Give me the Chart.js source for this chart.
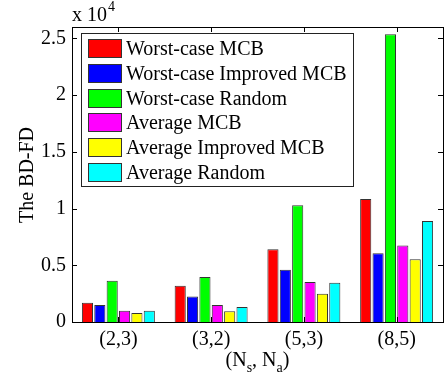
<!DOCTYPE html>
<html>
<head>
<meta charset="utf-8">
<script src="https://cdn.jsdelivr.net/npm/chart.js@4.4.0/dist/chart.umd.min.js"></script>
<style>
html, body { margin: 0; padding: 0; background: #fff; }
</style>
</head>
<body>
<canvas id="myChart" width="447" height="376"></canvas>
<script>
// data
var categories = ['(2,3)', '(3,2)', '(5,3)', '(8,5)'];
var worstMCB = [1700, 3200, 6420, 10830];
var worstImproved = [1500, 2240, 4600, 6070];
var worstRandom = [3640, 3960, 10300, 25370];
var avgMCB = [1000, 1500, 3530, 6740];
var avgImproved = [800, 950, 2500, 5540];
var avgRandom = [1000, 1330, 3460, 8900];
var yTicks = [0, 5000, 10000, 15000, 20000, 25000];
var yMax = 26000;

var seriesNames = ['Worst-case MCB', 'Worst-case Improved MCB', 'Worst-case Random',
    'Average MCB', 'Average Improved MCB', 'Average Random'];
var seriesColors = ['#ff0000', '#0000ff', '#00ff00', '#ff00ff', '#ffff00', '#00ffff'];
var seriesData = [worstMCB, worstImproved, worstRandom, avgMCB, avgImproved, avgRandom];

var FONT = 'Liberation Serif';

var datasets = seriesNames.map(function(name, i) {
    return {
        label: name,
        data: seriesData[i],
        backgroundColor: seriesColors[i],
        borderColor: '#333333',
        borderWidth: 1,
        categoryPercentage: 0.8,
        barPercentage: 0.9
    };
});

// matlab style box, inward ticks, titles and legend
var matlabPlugin = {
    id: 'matlab',
    afterDraw: function(chart) {
        var ctx = chart.ctx;
        var a = chart.chartArea;
        var xs = chart.scales.x, ys = chart.scales.y;
        ctx.save();
        ctx.strokeStyle = '#000';
        ctx.lineWidth = 1;
        ctx.strokeRect(Math.round(a.left) + 0.5, Math.round(a.top) + 0.5,
            Math.round(a.right - a.left), Math.round(a.bottom - a.top));
        ctx.beginPath();
        yTicks.forEach(function(v) {
            var y = Math.round(ys.getPixelForValue(v)) + 0.5;
            ctx.moveTo(a.left, y); ctx.lineTo(a.left + 5, y);
            ctx.moveTo(a.right, y); ctx.lineTo(a.right - 5, y);
        });
        categories.forEach(function(c, i) {
            var x = Math.round(xs.getPixelForTick(i)) + 0.5;
            ctx.moveTo(x, a.bottom); ctx.lineTo(x, a.bottom - 5);
            ctx.moveTo(x, a.top); ctx.lineTo(x, a.top + 5);
        });
        ctx.stroke();

        ctx.fillStyle = '#000';
        ctx.textBaseline = 'alphabetic';
        // exponent
        ctx.font = '20px ' + FONT;
        ctx.textAlign = 'left';
        ctx.fillText('x 10', 72, 21);
        var w = ctx.measureText('x 10').width;
        ctx.font = '14px ' + FONT;
        ctx.fillText('4', 72 + w + 1, 11);

        // y title
        ctx.save();
        ctx.translate(33, 175);
        ctx.rotate(-Math.PI / 2);
        ctx.font = '20px ' + FONT;
        ctx.textAlign = 'center';
        ctx.fillText('The BD-FD', 0, 0);
        ctx.restore();

        // x title with subscripts
        var parts = [['(N', 20, 0], ['s', 14, 6], [', N', 20, 0], ['a', 14, 6], [')', 20, 0]];
        var total = 0;
        parts.forEach(function(p) { ctx.font = p[1] + 'px ' + FONT; total += ctx.measureText(p[0]).width; });
        var cx = (a.left + a.right) / 2 - total / 2;
        ctx.textAlign = 'left';
        parts.forEach(function(p) {
            ctx.font = p[1] + 'px ' + FONT;
            ctx.fillText(p[0], cx, 366 + p[2]);
            cx += ctx.measureText(p[0]).width;
        });

        // legend
        var lx = 81, ly = 33, lw = 272, lh = 153;
        ctx.fillStyle = '#fff';
        ctx.fillRect(lx, ly, lw, lh);
        ctx.strokeStyle = '#222';
        ctx.strokeRect(lx + 0.5, ly + 0.5, lw, lh);
        ctx.font = '20px ' + FONT;
        chart.data.datasets.forEach(function(ds, i) {
            var ry = Math.round(39 + i * 24.8);
            ctx.fillStyle = ds.backgroundColor;
            ctx.fillRect(88, ry, 33, 18);
            ctx.strokeStyle = '#333';
            ctx.strokeRect(88.5, ry + 0.5, 33, 18);
            ctx.fillStyle = '#000';
            ctx.fillText(ds.label, 126, ry + 16);
        });
        ctx.restore();
    }
};

var ctx = document.getElementById('myChart').getContext('2d');
var myChart = new Chart(ctx, {
    type: 'bar',
    data: { labels: categories, datasets: datasets },
    options: {
        responsive: false,
        animation: false,
        devicePixelRatio: 1,
        layout: { padding: { left: 0, right: 4, top: 27, bottom: 0 } },
        plugins: { legend: { display: false }, tooltip: { enabled: false } },
        scales: {
            x: {
                grid: { display: false, drawTicks: false },
                border: { display: false },
                ticks: { color: '#000', font: { family: FONT, size: 20 }, padding: 6 },
                afterFit: function(s) { s.height = 54; }
            },
            y: {
                min: 0,
                max: yMax,
                grid: { display: false, drawTicks: false },
                border: { display: false },
                afterBuildTicks: function(s) { s.ticks = yTicks.map(function(v) { return { value: v }; }); },
                ticks: {
                    color: '#000',
                    font: { family: FONT, size: 20 },
                    padding: 6,
                    callback: function(v) { return String(v / 10000); }
                },
                afterFit: function(s) { s.width = 72; }
            }
        }
    },
    plugins: [matlabPlugin]
});
</script>
</body>
</html>
